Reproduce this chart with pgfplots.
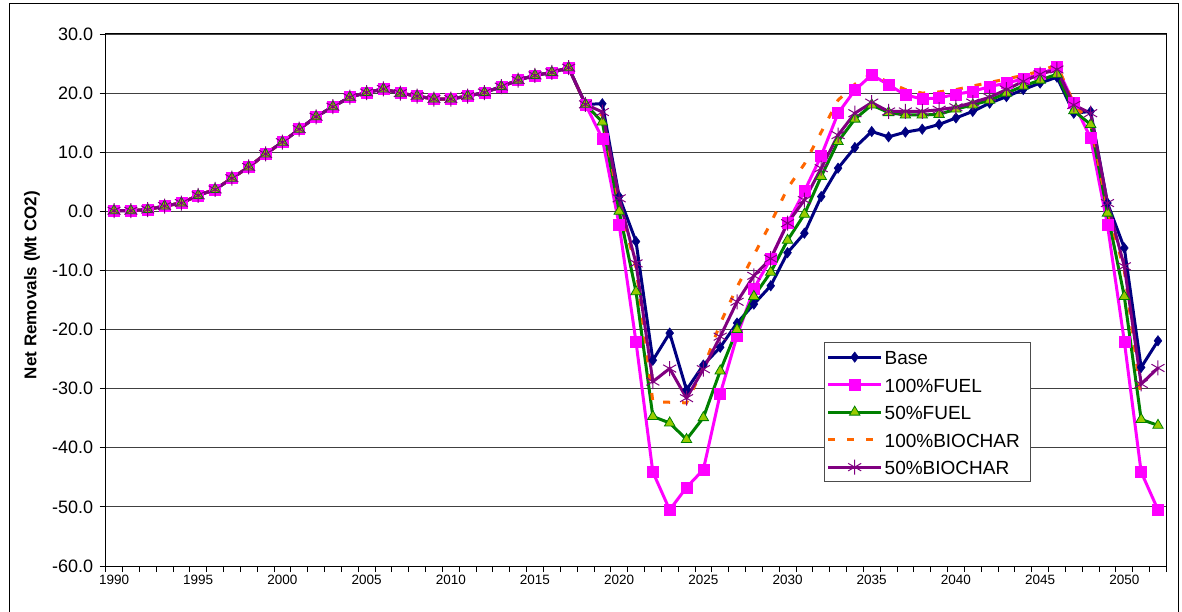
\documentclass[border=0pt]{standalone}
\usepackage{pgfplots}
\pgfplotsset{compat=1.18}
\usepackage{pgfplotstable}
\usepackage{fontspec}
\setmainfont{Liberation Sans}

\definecolor{basecol}{RGB}{0,0,128}
\definecolor{fuelA}{RGB}{255,0,255}
\definecolor{fuelB}{RGB}{0,128,0}
\definecolor{fuelBfill}{RGB}{153,204,0}
\definecolor{charA}{RGB}{255,102,0}
\definecolor{charB}{RGB}{128,0,128}

% net removals, Mt CO2
\pgfplotstableread{
year base f100 f50 b100 b50
1990 0.1 0.1 0.1 0.1 0.1
1991 0.1 0.1 0.1 0.1 0.1
1992 0.3 0.3 0.3 0.3 0.3
1993 0.9 0.9 0.9 0.9 0.9
1994 1.4 1.4 1.4 1.4 1.4
1995 2.7 2.7 2.7 2.7 2.7
1996 3.7 3.7 3.7 3.7 3.7
1997 5.6 5.6 5.6 5.6 5.6
1998 7.5 7.5 7.5 7.5 7.5
1999 9.7 9.7 9.7 9.7 9.7
2000 11.7 11.7 11.7 11.7 11.7
2001 13.9 13.9 13.9 13.9 13.9
2002 16.0 16.0 16.0 16.0 16.0
2003 17.7 17.7 17.7 17.7 17.7
2004 19.3 19.3 19.3 19.3 19.3
2005 20.1 20.1 20.1 20.1 20.1
2006 20.7 20.7 20.7 20.7 20.7
2007 20.0 20.0 20.0 20.0 20.0
2008 19.5 19.5 19.5 19.5 19.5
2009 19.0 19.0 19.0 19.0 19.0
2010 19.0 19.0 19.0 19.0 19.0
2011 19.5 19.5 19.5 19.5 19.5
2012 20.1 20.1 20.1 20.1 20.1
2013 21.1 21.1 21.1 21.1 21.1
2014 22.2 22.2 22.2 22.2 22.2
2015 23.0 23.0 23.0 23.0 23.0
2016 23.5 23.5 23.5 23.5 23.5
2017 24.3 24.3 24.3 24.3 24.3
2018 18.1 18.1 18.1 18.1 18.1
2019 18.2 12.3 15.1 16.2 16.8
2020 2.5 -2.3 0.0 1.2 2.2
2021 -5.1 -22.1 -13.6 -9.5 -8.8
2022 -25.2 -44.1 -34.7 -32.2 -28.8
2023 -20.6 -50.5 -35.8 -32.3 -26.6
2024 -30.2 -46.7 -38.6 -32.4 -31.6
2025 -26.0 -43.7 -34.9 -26.5 -26.7
2026 -23.0 -30.9 -27.0 -19.0 -21.2
2027 -18.9 -21.1 -20.0 -12.8 -15.3
2028 -15.7 -13.1 -14.4 -7.4 -10.9
2029 -12.6 -8.0 -10.3 -2.0 -8.0
2030 -7.0 -2.0 -4.9 3.9 -2.0
2031 -3.7 3.4 -0.5 8.0 1.9
2032 2.5 9.4 5.9 13.4 7.3
2033 7.3 16.6 11.8 18.8 12.9
2034 10.8 20.5 15.6 21.5 16.6
2035 13.5 23.1 18.0 23.3 18.4
2036 12.6 21.4 16.7 21.8 16.9
2037 13.4 19.7 16.3 20.6 16.9
2038 13.9 19.0 16.3 20.0 16.9
2039 14.7 19.2 16.4 20.2 17.2
2040 15.8 19.8 17.3 20.6 17.6
2041 16.9 20.3 18.0 21.2 18.4
2042 18.3 21.1 18.8 21.8 19.3
2043 19.4 21.7 20.0 22.4 20.6
2044 20.6 22.4 21.2 23.0 22.0
2045 21.7 23.2 22.2 23.7 23.2
2046 22.7 24.4 23.2 24.8 24.0
2047 16.6 18.3 17.0 18.2 18.0
2048 16.9 12.4 14.7 15.0 16.6
2049 1.4 -2.3 -0.3 0.3 1.4
2050 -6.2 -22.0 -14.4 -10.0 -9.3
2051 -26.4 -44.1 -35.2 -31.5 -29.2
2052 -21.9 -50.5 -36.2 nan -26.5
}\removals

\begin{document}
\begin{tikzpicture}
\useasboundingbox (0pt,0pt) rectangle (1182pt,611pt);
\begin{axis}[
  at={(105.6pt,45pt)}, anchor=south west,
  scale only axis, width=1060.8pt, height=532pt,
  xmin=1989.5, xmax=2052.5, ymin=-60, ymax=30,
  xtick={1989.5,1990.5,...,2053}, xticklabels={},
  extra x ticks={1990,1995,...,2050},
  extra x tick labels={1990,1995,2000,2005,2010,2015,2020,2025,2030,2035,2040,2045,2050},
  extra x tick style={major tick length=0pt,
    xticklabel style={font=\fontsize{13.5}{13.5}\selectfont, yshift=-6pt}},
  ytick={-60,-50,...,30},
  yticklabels={-60.0,-50.0,-40.0,-30.0,-20.0,-10.0,0.0,10.0,20.0,30.0},
  yticklabel style={font=\fontsize{18}{18}\selectfont, xshift=-3pt},
  xtick pos=bottom, ytick pos=left,
  tick align=outside, major tick length=6pt,
  tick style={black, line width=0.8pt},
  axis line style={black, line width=1pt},
  ymajorgrids, grid style={black!75, line width=0.8pt},
  ylabel={Net Removals (Mt CO2)},
  ylabel style={font=\bfseries\fontsize{17}{17}\selectfont,
    at={(axis description cs:-0.0694,0.528)}, anchor=center},
  legend style={at={(axis description cs:0.6775,0.4211)}, anchor=north west,
    draw=black!70, line width=0.8pt,
    font=\fontsize{19}{19}\selectfont,
    inner xsep=2pt, inner ysep=1pt, row sep=0pt,
    nodes={inner ysep=6pt, text height=15.5pt, text depth=0pt}},
  legend cell align=left,
  legend image code/.code={
    \draw[mark repeat=2,mark phase=2,#1] plot coordinates {(0pt,0pt) (26.5pt,0pt) (53pt,0pt)};},
]
\addplot[basecol, line width=3pt, mark=diamond*, mark size=5.2pt,
  mark options={solid, line width=0.5pt, fill=basecol}]
  table[x=year, y=base] {\removals};
\addlegendentry{Base}
\addplot[fuelA, line width=3pt, mark=square*, mark size=5.5pt,
  mark options={solid, line width=0.5pt, fill=fuelA}]
  table[x=year, y=f100] {\removals};
\addlegendentry{100\%FUEL}
\addplot[fuelB, line width=3pt, mark=triangle*, mark size=6pt,
  mark options={solid, line width=0.8pt, fill=fuelBfill}]
  table[x=year, y=f50] {\removals};
\addlegendentry{50\%FUEL}
\addplot[charA, line width=3pt, dash pattern=on 7pt off 12pt, no marks]
  table[x=year, y=b100] {\removals};
\addlegendentry{100\%BIOCHAR\rule{7pt}{0pt}}
\addplot[charB, line width=3pt, mark=asterisk, mark size=7.5pt,
  mark options={solid, line width=1pt}]
  table[x=year, y=b50] {\removals};
\addlegendentry{50\%BIOCHAR}
\end{axis}
\draw[black, line width=0.8pt] (9pt,-5pt) rectangle (1178pt,608pt);
\end{tikzpicture}
\end{document}
